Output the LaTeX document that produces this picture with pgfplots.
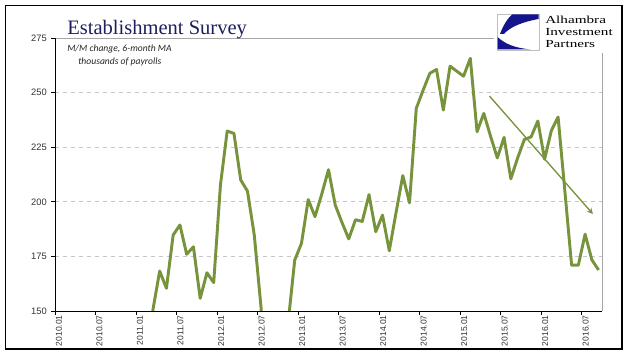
\documentclass[border=0pt]{standalone}
\usepackage{pgfplots}
\pgfplotsset{compat=1.18}
\usepackage{fontspec}
\setmainfont{Liberation Sans}
\newfontfamily\titlefont{Liberation Serif}
\newfontfamily\subfont{Carlito}
\definecolor{lgreen}{RGB}{119,147,60}
\definecolor{navy}{RGB}{30,30,95}
\definecolor{logoblue}{RGB}{20,20,140}
\newcommand{\logoline}[1]{\scalebox{1.2}[0.85]{\titlefont\fontsize{9.5}{9.5}\selectfont #1}}
\begin{document}
\begin{tikzpicture}[x=0.75pt,y=0.75pt]
\fill[white] (0,0) rectangle (640,357);
\useasboundingbox (0,0) rectangle (640,357);
\begin{axis}[
  at={(41.25pt,34.5pt)}, anchor=south west,
  scale only axis, width=410.25pt, height=204.75pt,
  xmin=0, xmax=81, ymin=150, ymax=275,
  xtick={0,6,...,78},
  xticklabels={2010.01,2010.07,2011.01,2011.07,2012.01,2012.07,2013.01,2013.07,2014.01,2014.07,2015.01,2015.07,2016.01,2016.07},
  ytick={150,175,...,275},
  tick align=outside, tick pos=left,
  major tick length=3pt,
  tick style={black, line width=0.6pt},
  /pgf/number format/assume math mode=true,
  yticklabel style={font=\fontsize{7}{7}\selectfont, text=black!80, inner sep=0pt, xshift=-3pt},
  xticklabel style={font=\fontsize{6.4}{6.4}\selectfont, text=black!80, rotate=90, anchor=east, inner sep=0pt, yshift=-3pt},
  ymajorgrids, grid style={dashed, gray!45, line width=0.5pt},
  axis line style={draw=none},
  clip=true,
]
\addplot[lgreen, line width=2.2pt, line join=round] coordinates {
(13.5,130) (14.5,150.5) (15.5,168.3) (16.5,160.4) (17.5,184.8) (18.5,189.4) (19.5,176) (20.5,179.4)
(21.5,155.8) (22.5,167.5) (23.5,163) (24.5,207.7) (25.5,232.4) (26.5,231.3) (27.5,210) (28.5,204.9)
(29.5,185) (30.5,152) (31.5,110) (32.5,105) (33.5,120) (34.5,144) (35.5,173.3) (36.5,181)
(37.5,201) (38.5,193.2) (39.5,203.5) (40.5,214.7) (41.5,198.5) (42.5,190.5) (43.5,183) (44.5,191.8)
(45.5,191) (46.5,203.3) (47.5,186.3) (48.5,193.9) (49.5,177.6) (50.5,195) (51.5,212) (52.5,199.5)
(53.5,242.8) (54.5,251) (55.5,258.8) (56.5,260.6) (57.5,242) (58.5,262.1) (59.5,259.8) (60.5,257.5)
(61.5,265.7) (62.5,232.1) (63.5,240.5) (64.5,230) (65.5,220.1) (66.5,229.5) (67.5,210.5) (68.5,220)
(69.5,228.5) (70.5,229.7) (71.5,237) (72.5,219.5) (73.5,232.6) (74.5,238.8) (75.5,205) (76.5,171)
(77.5,171) (78.5,185.2) (79.5,173.4) (80.5,168.8)
};
\draw[lgreen, line width=1pt, -stealth] (axis cs:64.34,248.4) -- (axis cs:79.66,194.4);
\end{axis}
% plot borders
\draw[gray!70, line width=0.6pt] (55,319) -- (602,319) -- (602,46);
\draw[black, line width=0.7pt] (55,319) -- (55,46) -- (602,46);
% outer frame
\draw[black, line width=0.8pt] (5.5,351.5) rectangle (622,8);
% logo area
\fill[white] (494,304) rectangle (618,349);
\draw[gray!50, line width=0.5pt] (497,343) rectangle (539,307);
\fill[logoblue] (512,342.5) -- (538.5,342.5) -- (538.5,338) .. controls (522,335) and (510,330) .. (504,323) -- (500,323) .. controls (503,331) and (507,338) .. cycle;
\fill[logoblue] (497.5,320) .. controls (505,313) and (515,309) .. (531,307.5) -- (497.5,307.5) -- cycle;
\node[anchor=base west, inner sep=0pt] at (545,333) {\logoline{Alhambra}};
\node[anchor=base west, inner sep=0pt] at (545,321) {\logoline{Investment}};
\node[anchor=base west, inner sep=0pt] at (545,309) {\logoline{Partners}};
% titles
\node[anchor=base west, inner sep=0pt, text=navy, font=\titlefont\fontsize{15.4}{16}\selectfont] at (67,322) {Establishment Survey};
\node[anchor=base west, inner sep=0pt, text=black!85, font=\subfont\itshape\fontsize{7.2}{8}\selectfont] at (67,305.5) {M/M change, 6-month MA};
\node[anchor=base west, inner sep=0pt, text=black!85, font=\subfont\itshape\fontsize{7.2}{8}\selectfont] at (78,292.5) {thousands of payrolls};
\end{tikzpicture}
\end{document}
